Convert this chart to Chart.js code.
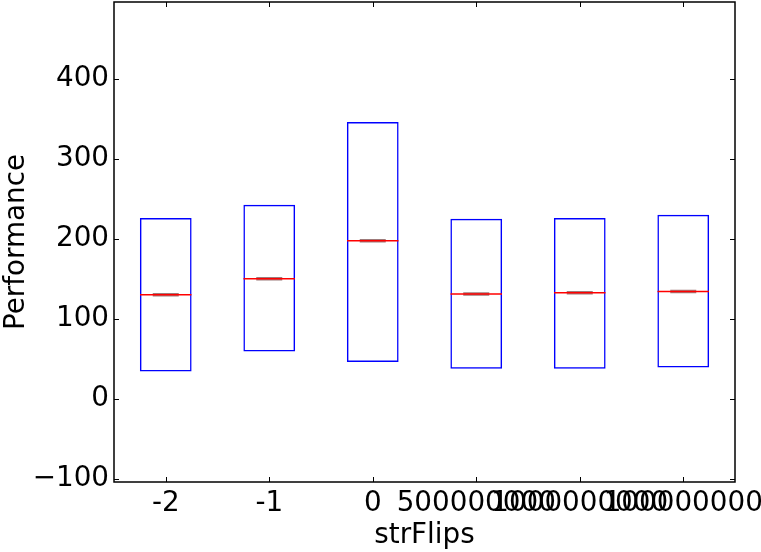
<!DOCTYPE html>
<html>
<head>
<meta charset="utf-8">
<script src="https://cdn.jsdelivr.net/npm/chart.js@4"></script>
<style>
html,body{margin:0;padding:0;background:#fff;}
#wrap{width:761px;height:552px;}
</style>
</head>
<body>
<div id="wrap"><canvas id="c" width="761" height="552"></canvas></div>
<script>
const categories = ['-2', '-1', '0', '500000000', '1000000000', '100000000'];
const boxLow = [34, 59, 46, 37.5, 37.5, 39];
const boxHigh = [226, 242.5, 346, 225, 226, 230];
const medians = [130, 150, 197.5, 131, 132.5, 134];
const yTicks = [-100, 0, 100, 200, 300, 400];
const yMin = -104, yMax = 496;

const FONT = "'DejaVu Sans', sans-serif";
const FS = 27.8;

const frameTicks = {
  id: 'frameTicks',
  afterDraw(chart) {
    const ctx = chart.ctx, a = chart.chartArea;
    const xs = chart.scales.x, ys = chart.scales.y;
    ctx.save();
    ctx.strokeStyle = '#000';
    ctx.lineWidth = 1;
    const L = 5;
    ctx.beginPath();
    yTicks.forEach(v => {
      const p = Math.round(ys.getPixelForValue(v)) + 0.5;
      ctx.moveTo(a.left, p); ctx.lineTo(a.left + L, p);
      ctx.moveTo(a.right, p); ctx.lineTo(a.right - L, p);
    });
    categories.forEach((c, i) => {
      const p = Math.round(xs.getPixelForValue(i)) + 0.5;
      ctx.moveTo(p, a.bottom); ctx.lineTo(p, a.bottom - L);
      ctx.moveTo(p, a.top); ctx.lineTo(p, a.top + L);
    });
    ctx.stroke();
    ctx.lineWidth = 1.5;
    ctx.strokeRect(a.left, a.top, a.right - a.left, a.bottom - a.top);
    ctx.restore();
  }
};

new Chart(document.getElementById('c'), {
  data: {
    labels: categories,
    datasets: [
      {
        type: 'bar',
        data: boxLow.map((lo, i) => [lo, boxHigh[i]]),
        backgroundColor: 'rgba(0,0,0,0)',
        borderColor: '#0000ff',
        borderWidth: 1.5,
        borderSkipped: false,
        barPercentage: 0.5,
        categoryPercentage: 1.0,
        order: 3
      },
      {
        type: 'line',
        data: medians,
        showLine: false,
        pointStyle: 'line',
        pointRadius: 13,
        pointBorderWidth: 3.5,
        pointBorderColor: 'rgba(140,100,100,0.85)',
        pointBackgroundColor: 'rgba(0,0,0,0)',
        order: 2
      },
      {
        type: 'line',
        data: medians,
        showLine: false,
        pointStyle: 'line',
        pointRadius: 25.75,
        pointBorderWidth: 1.5,
        pointBorderColor: '#ff0000',
        pointBackgroundColor: 'rgba(0,0,0,0)',
        order: 1
      }
    ]
  },
  options: {
    responsive: false,
    animation: false,
    events: [],
    layout: { autoPadding: false, padding: { top: 2, right: 26, left: 0, bottom: 0 } },
    plugins: { legend: { display: false }, tooltip: { enabled: false } },
    scales: {
      x: {
        type: 'category',
        offset: true,
        grid: { display: false, drawTicks: false },
        border: { display: false },
        ticks: {
          autoSkip: false, maxRotation: 0, minRotation: 0,
          padding: 5, color: '#000',
          font: { family: FONT, size: FS }
        },
        title: {
          display: true, text: 'strFlips', color: '#000',
          font: { family: FONT, size: FS }, padding: { top: 0, bottom: 0 }
        },
        afterFit: s => { s.height = 70; s.paddingLeft = 0; s.paddingRight = 0; }
      },
      y: {
        type: 'linear',
        min: yMin, max: yMax,
        grid: { display: false, drawTicks: false },
        border: { display: false },
        afterBuildTicks: s => { s.ticks = yTicks.map(v => ({ value: v })); },
        ticks: {
          padding: 5, color: '#000',
          font: { family: FONT, size: FS },
          callback: v => String(v).replace('-', '\u2212')
        },
        title: {
          display: true, text: 'Performance', color: '#000',
          font: { family: FONT, size: FS }, padding: { top: 0, bottom: 0 }
        },
        afterFit: s => { s.width = 114; s.paddingTop = 0; s.paddingBottom = 0; }
      }
    }
  },
  plugins: [frameTicks]
});
</script>
</body>
</html>
